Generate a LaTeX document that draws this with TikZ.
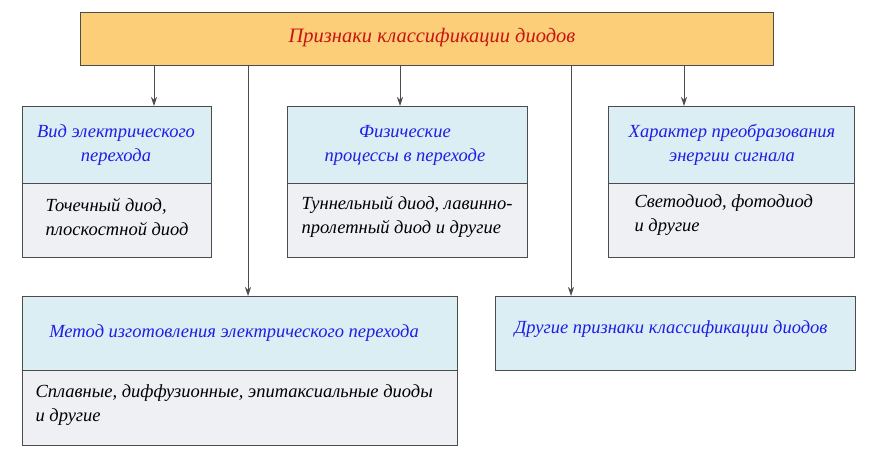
\documentclass[tikz,border=0pt]{standalone}
\usepackage{fontspec}
\setmainfont{Liberation Serif}
\usetikzlibrary{arrows.meta}
\begin{document}
\begin{tikzpicture}[x=1pt,y=-1pt,
 box/.style={draw=black!70,line width=0.8pt,inner sep=0pt},
 hdr/.style={box,fill={rgb,255:red,218;green,238;blue,243}},
 bod/.style={box,fill={rgb,255:red,238;green,240;blue,244}},
 ht/.style={font=\itshape\fontsize{18.5}{24}\selectfont,text={rgb,255:red,30;green,30;blue,230},align=center},
 bt/.style={font=\itshape\fontsize{18.5}{24}\selectfont,align=left,anchor=west},
 arr/.style={draw=black!70,line width=0.8pt,-{Stealth[length=9pt,width=6pt]}}]
\useasboundingbox (0,0) rectangle (875,457);
\path[box,fill={rgb,255:red,252;green,206;blue,120}] (80,12) rectangle (773,65);
\node[font=\itshape\fontsize{20.5}{24}\selectfont,text={rgb,255:red,200;green,20;blue,20}] (top) at (432,38) {Признаки классификации диодов};
% box 1
\path[hdr] (22,106) rectangle (211,183); \path[bod] (22,183) rectangle (211,257);
\node[ht] (h1) at (116,145) {Вид электрического\\перехода};
\node[bt] (b1) at (42,217) {Точечный диод,\\плоскостной диод};
% box 2
\path[hdr] (287,106) rectangle (527,183); \path[bod] (287,183) rectangle (527,257);
\node[ht] (h2) at (405,145) {Физические\\процессы в переходе};
\node[bt] (b2) at (298,217) {Туннельный диод, лавинно-\\пролетный диод и другие};
% box 3
\path[hdr] (608,106) rectangle (854,183); \path[bod] (608,183) rectangle (854,257);
\node[ht] (h3) at (732,145) {Характер преобразования\\энергии сигнала};
\node[bt] (b3) at (631,215) {Светодиод, фотодиод\\и другие};
% box 4
\path[hdr] (22,296) rectangle (457,370); \path[bod] (22,370) rectangle (457,445);
\node[ht] (h4) at (234,333) {Метод изготовления электрического перехода};
\node[bt] (b4) at (32,405) {Сплавные, диффузионные, эпитаксиальные диоды\\и другие};
% box 5
\path[hdr] (495,296) rectangle (855,370);
\node[ht] (h5) at (671,329) {Другие признаки классификации диодов};
% arrows
\coordinate (a1) at (154,65); \coordinate (e1) at (154,106);
\coordinate (a2) at (400,65); \coordinate (e2) at (400,106);
\coordinate (a3) at (684,65); \coordinate (e3) at (684,106);
\coordinate (a4) at (248,65); \coordinate (e4) at (248,296);
\coordinate (a5) at (571,65); \coordinate (e5) at (571,296);
\foreach \i in {1,...,5} \draw[arr] (a\i) -- (e\i);
\end{tikzpicture}
\end{document}
